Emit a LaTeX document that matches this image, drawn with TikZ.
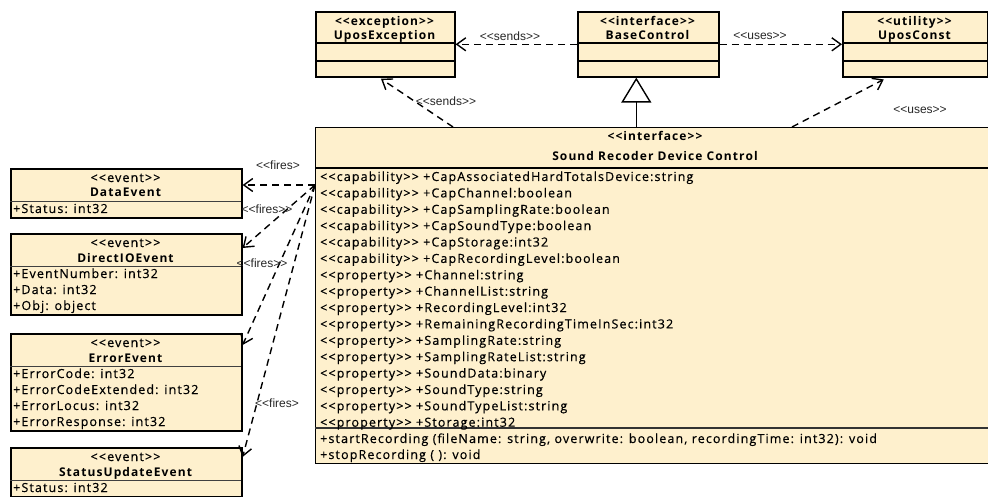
\documentclass[tikz,border=0pt]{standalone}
\usepackage{fontspec}
\setmainfont{Open Sans}[LetterSpace=9,Ligatures=TeXOff]
\newfontfamily\rowfont{Open Sans}[LetterSpace=9,Ligatures=TeXOff,FakeBold=0.5]
\newfontfamily\lblfont{Liberation Sans}[Ligatures=TeXOff]
\usetikzlibrary{arrows.meta}
\definecolor{classfill}{RGB}{254,240,205}

\begin{document}
\begin{tikzpicture}[x=1pt,y=-1pt,
    class node/.style={draw,line width=1.6pt,fill=classfill,anchor=north west,inner sep=0pt},
    head node/.style={font=\bfseries\fontsize{12}{14}\selectfont,inner sep=0pt,anchor=base},
    tag node/.style={font=\rowfont\fontsize{12.5}{14}\selectfont,inner sep=0pt,anchor=base},
    row node/.style={font=\rowfont\fontsize{12.5}{14}\selectfont,inner sep=0pt,anchor=base west},
    label node/.style={font=\lblfont\fontsize{12}{14}\selectfont,inner sep=0pt,text=black!85},
    dep/.style={line width=1.4pt,dash pattern=on 7pt off 5pt,-{Straight Barb[length=9pt,width=13pt]}},
    sep/.style={line width=1.6pt},
    thin sep/.style={line width=0.8pt,black!75}]
  \useasboundingbox (0,0) rectangle (988,497);
  \clip (0,0) rectangle (988,497);

  % top row
  \node[class node,minimum width=139pt,minimum height=65pt] (exc) at (315,11) {};
  \draw[sep] (315,43) -- (454,43) (315,61) -- (454,61);
  \node[head node] (exct) at (384.5,26) {<<exception>>};
  \node[head node] (excn) at (384.5,40) {UposException};

  \node[class node,minimum width=141pt,minimum height=65pt] (base) at (577,11) {};
  \draw[sep] (577,43) -- (718,43) (577,61) -- (718,61);
  \node[head node] (baset) at (647.5,26) {<<interface>>};
  \node[head node] (basen) at (647.5,40) {BaseControl};

  \node[class node,minimum width=145pt,minimum height=65pt] (uconst) at (842,11) {};
  \draw[sep] (842,43) -- (987,43) (842,61) -- (987,61);
  \node[head node] (uconstt) at (914.5,26) {<<utility>>};
  \node[head node] (uconstn) at (914.5,40) {UposConst};

  % device control
  \node[class node,line width=1.4pt,minimum width=690pt,minimum height=336pt] (ctrl) at (315,127) {};
  \draw[sep] (315,168) -- (1005,168);
  \draw[line width=1.2pt,black!80] (315,428) -- (1005,428);
  \node[head node] (ctrlt) at (655,141) {<<interface>>};
  \node[head node] (ctrln) at (655,161) {Sound Recoder Device Control};
  \node[row node] (a1) at (320,181) {<<capability>> +CapAssociatedHardTotalsDevice:string};
  \node[row node] (a2) at (320,197.4) {<<capability>> +CapChannel:boolean};
  \node[row node] (a3) at (320,213.8) {<<capability>> +CapSamplingRate:boolean};
  \node[row node] (a4) at (320,230.1) {<<capability>> +CapSoundType:boolean};
  \node[row node] (a5) at (320,246.5) {<<capability>> +CapStorage:int32};
  \node[row node] (a6) at (320,262.9) {<<capability>> +CapRecordingLevel:boolean};
  \node[row node] (a7) at (320,279.3) {<<property>> +Channel:string};
  \node[row node] (a8) at (320,295.7) {<<property>> +ChannelList:string};
  \node[row node] (a9) at (320,312) {<<property>> +RecordingLevel:int32};
  \node[row node] (a10) at (320,328.4) {<<property>> +RemainingRecordingTimeInSec:int32};
  \node[row node] (a11) at (320,344.8) {<<property>> +SamplingRate:string};
  \node[row node] (a12) at (320,361.2) {<<property>> +SamplingRateList:string};
  \node[row node] (a13) at (320,377.6) {<<property>> +SoundData:binary};
  \node[row node] (a14) at (320,394) {<<property>> +SoundType:string};
  \node[row node] (a15) at (320,410.3) {<<property>> +SoundTypeList:string};
  \node[row node] (a16) at (320,426.7) {<<property>> +Storage:int32};
  \node[row node] (m1) at (320,443) {+startRecording (fileName: string, overwrite: boolean, recordingTime: int32): void};
  \node[row node] (m2) at (320,459) {+stopRecording ( ): void};

  % events
  \node[class node,minimum width=231pt,minimum height=49pt] (data) at (10,168) {};
  \draw[thin sep] (10,201) -- (241,201);
  \node[tag node] (datat) at (125.5,182) {<<event>>};
  \node[head node] (datan) at (125.5,197) {DataEvent};
  \node[row node] (d1) at (13,213) {+Status: int32};

  \node[class node,minimum width=231pt,minimum height=81pt] (dirio) at (10,233) {};
  \draw[thin sep] (10,266) -- (241,266);
  \node[tag node] (diriot) at (125.5,247) {<<event>>};
  \node[head node] (dirion) at (125.5,262) {DirectIOEvent};
  \node[row node] (i1) at (13,278) {+EventNumber: int32};
  \node[row node] (i2) at (13,294) {+Data: int32};
  \node[row node] (i3) at (13,310) {+Obj: object};

  \node[class node,minimum width=231pt,minimum height=97pt] (err) at (10,333) {};
  \draw[thin sep] (10,366) -- (241,366);
  \node[tag node] (errt) at (125.5,347) {<<event>>};
  \node[head node] (errn) at (125.5,362) {ErrorEvent};
  \node[row node] (e1) at (13,378) {+ErrorCode: int32};
  \node[row node] (e2) at (13,394) {+ErrorCodeExtended: int32};
  \node[row node] (e3) at (13,410) {+ErrorLocus: int32};
  \node[row node] (e4) at (13,426) {+ErrorResponse: int32};

  \node[class node,minimum width=231pt,minimum height=49pt] (stat) at (10,447) {};
  \draw[thin sep] (10,480) -- (241,480);
  \node[tag node] (statt) at (125.5,461) {<<event>>};
  \node[head node] (statn) at (125.5,476) {StatusUpdateEvent};
  \node[row node] (s1) at (13,492) {+Status: int32};

  % connectors
  \coordinate (inh) at ([xshift=-12pt]base.south);
  \draw[line width=1.4pt,-{Triangle[open,length=25pt,width=30pt]}] (inh |- ctrl.north) -- (inh);
  \path[dep] (base.west) edge (exc.east);
  \path[dep] (base.east) edge (uconst.west);
  \path[dep,shorten >=2pt] ([xshift=138pt]ctrl.north west) edge ([xshift=-6pt]exc.south);
  \path[dep,shorten >=4pt] ([xshift=477pt]ctrl.north west) edge ([xshift=-28pt]uconst.south);

  \coordinate (fo) at ([yshift=-58pt]ctrl.north west);
  \path[dep] (fo) edge ([yshift=-17pt]data.north east);
  \path[dep] (fo) edge ([yshift=-15pt]dirio.north east);
  \path[dep] (fo) edge ([yshift=-12pt]err.north east);
  \path[dep] (fo) edge ([yshift=-10pt]stat.north east);

  % labels
  \node[label node] (l1) at (510,36) {<<sends>>};
  \node[label node] (l2) at (760,36) {<<uses>>};
  \node[label node] (l3) at (446,101) {<<sends>>};
  \node[label node] (l4) at (920,110) {<<uses>>};
  \node[label node] (l5) at (278,165) {<<fires>};
  \node[label node] (l6) at (267,209) {<<fires>>};
  \node[label node] (l7) at (262,263) {<<fires>>};
  \node[label node] (l8) at (277,403) {<<fires>};
\end{tikzpicture}
\end{document}
